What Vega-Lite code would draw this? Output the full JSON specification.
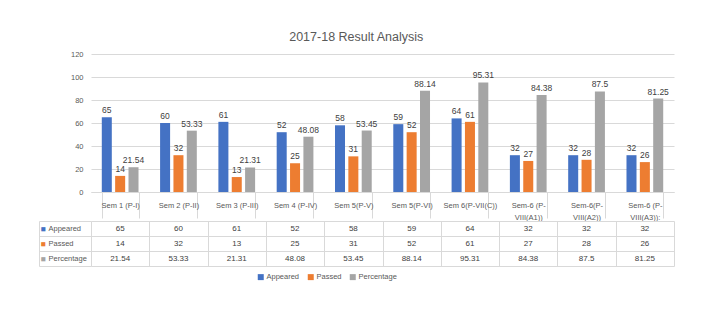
{
  "$schema": "https://vega.github.io/schema/vega-lite/v6.json",
  "background": "white",
  "padding": {"left": 38, "top": 30, "right": 20, "bottom": 10},
  "title": {"text": "2017-18 Result Analysis", "fontSize": 12.5, "fontWeight": "normal", "color": "#595959", "anchor": "middle", "offset": 7},
  "data": {"values": [
    {"cat": "Sem 1 (P-I)", "series": "Appeared", "value": 65},
    {"cat": "Sem 2 (P-II)", "series": "Appeared", "value": 60},
    {"cat": "Sem 3 (P-III)", "series": "Appeared", "value": 61},
    {"cat": "Sem 4 (P-IV)", "series": "Appeared", "value": 52},
    {"cat": "Sem 5(P-V)", "series": "Appeared", "value": 58},
    {"cat": "Sem 5(P-VI)", "series": "Appeared", "value": 59},
    {"cat": "Sem 6(P-VII(C))", "series": "Appeared", "value": 64},
    {"cat": "Sem-6 (P-VIII(A1))", "series": "Appeared", "value": 32},
    {"cat": "Sem-6(P-VIII(A2))", "series": "Appeared", "value": 32},
    {"cat": "Sem-6 (P-VIII(A3)):", "series": "Appeared", "value": 32},
    {"cat": "Sem 1 (P-I)", "series": "Passed", "value": 14},
    {"cat": "Sem 2 (P-II)", "series": "Passed", "value": 32},
    {"cat": "Sem 3 (P-III)", "series": "Passed", "value": 13},
    {"cat": "Sem 4 (P-IV)", "series": "Passed", "value": 25},
    {"cat": "Sem 5(P-V)", "series": "Passed", "value": 31},
    {"cat": "Sem 5(P-VI)", "series": "Passed", "value": 52},
    {"cat": "Sem 6(P-VII(C))", "series": "Passed", "value": 61},
    {"cat": "Sem-6 (P-VIII(A1))", "series": "Passed", "value": 27},
    {"cat": "Sem-6(P-VIII(A2))", "series": "Passed", "value": 28},
    {"cat": "Sem-6 (P-VIII(A3)):", "series": "Passed", "value": 26},
    {"cat": "Sem 1 (P-I)", "series": "Percentage", "value": 21.54},
    {"cat": "Sem 2 (P-II)", "series": "Percentage", "value": 53.33},
    {"cat": "Sem 3 (P-III)", "series": "Percentage", "value": 21.31},
    {"cat": "Sem 4 (P-IV)", "series": "Percentage", "value": 48.08},
    {"cat": "Sem 5(P-V)", "series": "Percentage", "value": 53.45},
    {"cat": "Sem 5(P-VI)", "series": "Percentage", "value": 88.14},
    {"cat": "Sem 6(P-VII(C))", "series": "Percentage", "value": 95.31},
    {"cat": "Sem-6 (P-VIII(A1))", "series": "Percentage", "value": 84.38},
    {"cat": "Sem-6(P-VIII(A2))", "series": "Percentage", "value": 87.5},
    {"cat": "Sem-6 (P-VIII(A3)):", "series": "Percentage", "value": 81.25}
  ]},
  "spacing": -6,
  "vconcat": [
    {
      "width": 583,
      "height": 138,
      "encoding": {
        "x": {"field": "cat", "type": "nominal", "sort": null, "title": null,
          "scale": {"paddingInner": 0.37, "paddingOuter": 0.185},
          "axis": {"labelAngle": 0, "labelFontSize": 7.5, "labelColor": "#595959", "labelLimit": 0,
            "labelExpr": "indexof(datum.label,'VIII')>0 ? [slice(datum.label,0,indexof(datum.label,'VIII')), slice(datum.label,indexof(datum.label,'VIII'))] : datum.label",
            "labelBaseline": "middle", "labelLineHeight": 12, "labelPadding": -13,
            "tickBand": "extent", "tickSize": 26, "tickColor": "#D9D9D9", "domainColor": "#D9D9D9", "grid": false}},
        "xOffset": {"field": "series", "type": "nominal", "sort": ["Appeared", "Passed", "Percentage"],
          "scale": {"paddingInner": 0.25, "paddingOuter": 0}},
        "y": {"field": "value", "type": "quantitative", "title": null,
          "scale": {"domain": [0, 120]},
          "axis": {"values": [0, 20, 40, 60, 80, 100, 120], "domain": false, "ticks": false, "labelPadding": 8,
            "labelFontSize": 7.5, "labelColor": "#595959", "gridColor": "#D9D9D9"}}
      },
      "layer": [
        {"mark": {"type": "bar"},
         "encoding": {"color": {"field": "series", "type": "nominal", "sort": ["Appeared", "Passed", "Percentage"],
           "scale": {"domain": ["Appeared", "Passed", "Percentage"], "range": ["#4472C4", "#ED7D31", "#A5A5A5"]},
           "legend": {"orient": "none", "legendX": 166, "legendY": 219, "title": null, "direction": "horizontal", "symbolType": "square", "symbolSize": 36,
             "symbolStrokeWidth": 0, "labelFontSize": 7.5, "labelColor": "#595959", "labelOffset": 2, "columnPadding": 7}}}},
        {"mark": {"type": "text", "dy": -7, "fontSize": 8.5, "color": "#404040"},
         "encoding": {"text": {"field": "value", "type": "nominal"}}}
      ]
    },
    {
      "width": 583,
      "height": 45,
      "layer": [
        {"mark": {"type": "text", "fontSize": 8, "color": "#404040"},
         "encoding": {
           "x": {"field": "cat", "type": "nominal", "sort": null, "title": null,
             "scale": {"paddingInner": 0, "paddingOuter": 0},
             "axis": {"orient": "bottom", "labels": false, "ticks": false, "domain": false, "grid": true, "tickBand": "extent", "gridColor": "#D9D9D9"}},
           "y": {"field": "series", "type": "nominal", "sort": ["Appeared", "Passed", "Percentage"], "title": null,
             "scale": {"paddingInner": 0, "paddingOuter": 0},
             "axis": {"orient": "left", "tickBand": "extent", "tickSize": 52, "tickColor": "#D9D9D9", "domain": false, "grid": true, "gridColor": "#D9D9D9",
               "labelAlign": "left", "labelPadding": -9, "labelFontSize": 7.5, "labelColor": "#595959"}},
           "text": {"field": "value", "type": "nominal"}
         }},
        {"mark": {"type": "text", "opacity": 0},
         "encoding": {
           "x": {"field": "cat", "type": "nominal", "sort": null},
           "y": {"field": "series", "type": "nominal", "sort": ["Appeared", "Passed", "Percentage"], "title": null,
             "axis": {"orient": "left", "offset": 52, "ticks": false, "domain": true, "domainColor": "#D9D9D9", "grid": false, "labelAlign": "left", "labelPadding": -1, "labelFontSize": 8.5,
               "labelExpr": "'■'",
               "labelColor": {"condition": [{"test": "datum.value === 'Appeared'", "value": "#4472C4"}, {"test": "datum.value === 'Passed'", "value": "#ED7D31"}], "value": "#A5A5A5"}}},
           "text": {"field": "value", "type": "nominal"}
         }}
      ],
      "resolve": {"axis": {"y": "independent"}}
    }
  ],
  "config": {
    "font": "Liberation Sans",
    "view": {"stroke": null}
  }
}
